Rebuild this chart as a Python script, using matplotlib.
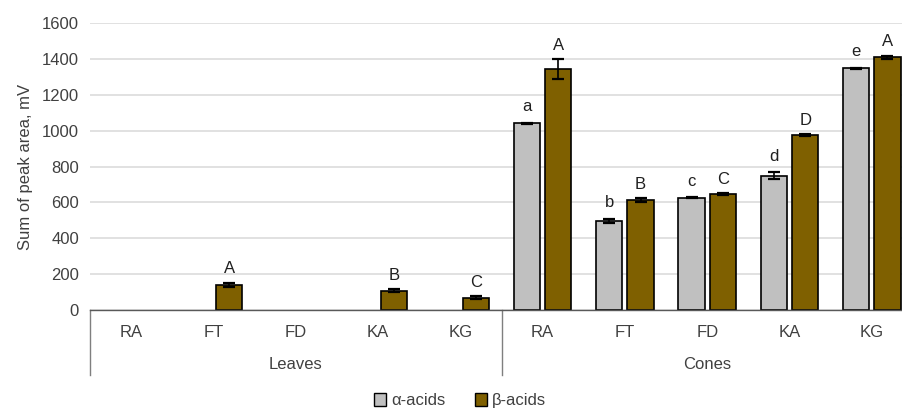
import matplotlib.pyplot as plt
import matplotlib.transforms as mtransforms
import numpy as np
from matplotlib.patches import Patch

plt.rcParams["font.family"] = ["Liberation Sans", "DejaVu Sans"]

CATEGORIES = ["RA", "FT", "FD", "KA", "KG", "RA", "FT", "FD", "KA", "KG"]
GROUPS = ["Leaves", "Cones"]
ALPHA = [0, 0, 0, 0, 0, 1040, 498, 626, 749, 1349]
ALPHA_ERR = [0, 0, 0, 0, 0, 5, 12, 2, 18, 3]
BETA = [0, 140, 0, 108, 69, 1343, 613, 648, 974, 1410]
BETA_ERR = [0, 12, 0, 10, 8, 55, 10, 5, 5, 8]
ALPHA_LETTERS = ["", "", "", "", "", "a", "b", "c", "d", "e"]
BETA_LETTERS = ["", "A", "", "B", "C", "A", "B", "C", "D", "A"]

GRAY = "#c0c0c0"
BROWN = "#7f6000"
GRID = "#d9d9d9"
TEXT = "#404040"
FS = 12

fig = plt.figure(figsize=(9.02, 4.11), dpi=100)
ax = fig.add_axes([0.0998, 0.2457, 0.9002, 0.6983])

x = np.arange(len(CATEGORIES))
offset = 0.19
width = 0.32


def draw_series(xpos, values, errors, color):
    values = np.asarray(values, dtype=float)
    errors = np.asarray(errors, dtype=float)
    shown = values > 0
    ax.bar(xpos[shown], values[shown], width, color=color, edgecolor="black", linewidth=1.2, zorder=3)
    ax.errorbar(xpos[shown], values[shown], yerr=errors[shown], fmt="none", ecolor="black",
                elinewidth=1.2, capsize=4, capthick=1.6, zorder=4)


draw_series(x - offset, ALPHA, ALPHA_ERR, GRAY)
draw_series(x + offset, BETA, BETA_ERR, BROWN)

for i in range(len(CATEGORIES)):
    if ALPHA_LETTERS[i]:
        ax.text(x[i] - offset, ALPHA[i] + ALPHA_ERR[i] + 45, ALPHA_LETTERS[i], ha="center", va="bottom", fontsize=FS, color="#202020")
    if BETA_LETTERS[i]:
        ax.text(x[i] + offset, BETA[i] + BETA_ERR[i] + 35, BETA_LETTERS[i], ha="center", va="bottom", fontsize=FS, color="#202020")

ax.set_ylim(0, 1600)
ax.set_xlim(-0.5, -0.5 + 812 / 82.3)
ax.set_yticks(np.arange(0, 1601, 200))
ax.tick_params(axis="y", length=0, labelsize=FS, labelcolor=TEXT, pad=8)
ax.set_xticks([])
ax.grid(axis="y", color=GRID, linewidth=1.1, zorder=0)
ax.set_axisbelow(True)
for side in ["top", "right", "left"]:
    ax.spines[side].set_visible(False)
ax.spines["bottom"].set_color("#595959")
ax.spines["bottom"].set_linewidth(1.0)
ax.spines["bottom"].set_zorder(5)
ax.set_ylabel("Sum of peak area, mV", fontsize=FS, color=TEXT, labelpad=6)

trans = mtransforms.blended_transform_factory(ax.transData, ax.transAxes)
for i, label in enumerate(CATEGORIES):
    ax.text(x[i], -0.08, label, ha="center", va="center", fontsize=FS, color=TEXT, transform=trans)
ax.text(2, -0.19, GROUPS[0], ha="center", va="center", fontsize=FS, color=TEXT, transform=trans)
ax.text(7, -0.19, GROUPS[1], ha="center", va="center", fontsize=FS, color=TEXT, transform=trans)
for xs in [-0.5, 4.5]:
    ax.plot([xs, xs], [0, -0.225], color="#7f7f7f", linewidth=1.0, transform=trans, clip_on=False)

handles = [
    Patch(facecolor=GRAY, edgecolor="black", label="α-acids"),
    Patch(facecolor=BROWN, edgecolor="black", label="β-acids"),
]
fig.legend(handles=handles, loc="lower center", bbox_to_anchor=(0.51, -0.03), ncol=2, frameon=False,
           fontsize=FS, handlelength=0.7, handleheight=0.9, handletextpad=0.3, columnspacing=1.8,
           labelcolor=TEXT)

fig.savefig("out.png", dpi=100)
